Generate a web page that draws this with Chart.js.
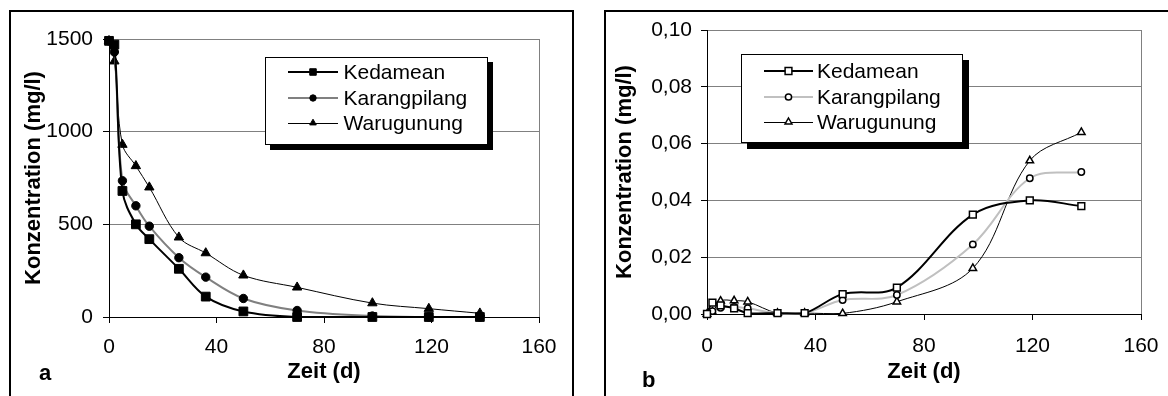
<!DOCTYPE html>
<html>
<head>
<meta charset="utf-8">
<script src="https://cdn.jsdelivr.net/npm/chart.js@4.4.1/dist/chart.umd.min.js"></script>
<style>
  html, body { margin: 0; padding: 0; background: #fff; }
  body { width: 1168px; height: 396px; overflow: hidden; position: relative;
         font-family: "Liberation Sans", Arial, sans-serif; }
  .frame { position: absolute; border: 2px solid #000; box-sizing: border-box; }
  canvas { position: absolute; top: 0; }
  .tag { position: absolute; font-weight: bold; font-size: 22px; line-height: 20px; color: #000; }
</style>
</head>
<body>
<div class="frame" style="left:9px;top:10px;width:565px;height:420px"></div>
<div class="frame" style="left:604px;top:10px;width:620px;height:420px"></div>
<canvas id="chartA" width="584" height="396" style="left:0"></canvas>
<canvas id="chartB" width="584" height="396" style="left:584px"></canvas>
<div class="tag" style="left:39px;top:363px">a</div>
<div class="tag" style="left:642px;top:370px">b</div>

<script>
// Sampling days (d)
const days = [0, 2, 5, 10, 15, 26, 36, 50, 70, 98, 119, 138];

// Panel a: concentration in mg/l
const kedameanA     = [1490, 1470, 680, 500, 420, 260, 110, 30, 0, 0, 0, 0];
const karangpilangA = [1490, 1430, 735, 600, 490, 320, 215, 100, 35, 5, 0, 0];
const warugunungA   = [1490, 1380, 930, 815, 700, 430, 345, 225, 160, 75, 45, 20];

// Panel b: concentration in mg/l
const kedameanB     = [0, 0.004, 0.003, 0.002, 0.0003, 0.0003, 0.0003, 0.007, 0.0093, 0.035, 0.040, 0.038];
const karangpilangB = [0, 0.001, 0.0022, 0.0025, 0.002, 0.0003, 0.0003, 0.0049, 0.0067, 0.0245, 0.0478, 0.050];
const warugunungB   = [0, 0.0007, 0.0046, 0.0047, 0.0043, 0.0003, 0.0003, 0.0002, 0.0043, 0.0161, 0.054, 0.064];

const seriesNames = ['Kedamean', 'Karangpilang', 'Warugunung'];

// Axis ticks
const xTicks = [0, 40, 80, 120, 160];
const yTicksA = [0, 500, 1000, 1500];
const yLabelsA = ['0', '500', '1000', '1500'];
const yTicksB = [0, 0.02, 0.04, 0.06, 0.08, 0.10];
const yLabelsB = ['0,00', '0,02', '0,04', '0,06', '0,08', '0,10'];

const FONT = '"Liberation Sans", Arial, sans-serif';
Chart.defaults.font.family = FONT;
Chart.defaults.color = '#000';

function points(values) {
  return days.map((d, i) => ({ x: d, y: values[i] }));
}

function drawMarker(ctx, style, x, y, r, fill, stroke, bw) {
  ctx.beginPath();
  if (style === 'rect') {
    const s = r * Math.SQRT1_2;
    ctx.rect(x - s, y - s, 2 * s, 2 * s);
  } else if (style === 'circle') {
    ctx.arc(x, y, r, 0, Math.PI * 2);
  } else {
    ctx.moveTo(x, y - r);
    ctx.lineTo(x + r * 0.866, y + r * 0.5);
    ctx.lineTo(x - r * 0.866, y + r * 0.5);
    ctx.closePath();
  }
  ctx.fillStyle = fill;
  ctx.fill();
  ctx.lineWidth = bw;
  ctx.strokeStyle = stroke;
  ctx.stroke();
}

// Boxed legend with a solid drop shadow
function boxLegend(cfg) {
  return {
    id: 'boxLegend',
    afterDraw(chart) {
      const ctx = chart.ctx;
      const b = cfg.box;
      ctx.save();
      ctx.fillStyle = '#000';
      ctx.fillRect(b.x + b.shadow, b.y + b.shadow, b.w, b.h);
      ctx.fillStyle = '#fff';
      ctx.fillRect(b.x, b.y, b.w, b.h);
      ctx.lineWidth = 1;
      ctx.strokeStyle = '#000';
      ctx.strokeRect(b.x + 0.5, b.y + 0.5, b.w - 1, b.h - 1);
      chart.data.datasets.forEach((ds, i) => {
        const ry = cfg.rows[i];
        const ly = ds.borderWidth % 2 ? ry + 0.5 : ry;
        ctx.strokeStyle = ds.borderColor;
        ctx.lineWidth = ds.borderWidth;
        ctx.beginPath();
        ctx.moveTo(cfg.lineX0, ly);
        ctx.lineTo(cfg.lineX1, ly);
        ctx.stroke();
        drawMarker(ctx, ds.pointStyle, (cfg.lineX0 + cfg.lineX1) / 2, ry,
                   cfg.markerRadius[i], ds.pointBackgroundColor, ds.pointBorderColor, ds.pointBorderWidth);
        ctx.fillStyle = '#000';
        ctx.font = '21px ' + FONT;
        ctx.textBaseline = 'middle';
        ctx.textAlign = 'left';
        ctx.fillText(ds.label, cfg.textX, ry + 1);
      });
      ctx.restore();
    }
  };
}

function makeChart(id, p) {
  const GRID = '#808080';
  return new Chart(document.getElementById(id), {
    type: 'line',
    data: { datasets: p.datasets },
    options: {
      responsive: false,
      animation: false,
      devicePixelRatio: 1,
      layout: { padding: p.padding },
      plugins: { legend: { display: false }, tooltip: { enabled: false } },
      elements: { line: { tension: 0.35 } },
      scales: {
        x: {
          type: 'linear', min: 0, max: 160,
          afterBuildTicks: s => { s.ticks = xTicks.map(v => ({ value: v })); },
          afterFit: s => { s.height = p.xAxisHeight; s.paddingLeft = 0; s.paddingRight = 0; },
          ticks: { font: { size: 21 }, color: '#000', padding: p.xTickPad, maxRotation: 0 },
          grid: {
            drawOnChartArea: true,
            color: c => (c.tick && c.tick.value === 160) ? GRID : 'rgba(0,0,0,0)',
            tickColor: '#000', tickLength: 6, lineWidth: 1
          },
          border: { display: true, color: '#000', width: 1 },
          title: { display: true, text: 'Zeit (d)', font: { size: 22, weight: 'bold' },
                   color: '#000', padding: { top: 0, bottom: 11 } }
        },
        y: {
          type: 'linear', min: p.yTicks[0], max: p.yTicks[p.yTicks.length - 1],
          afterBuildTicks: s => { s.ticks = p.yTicks.map(v => ({ value: v })); },
          afterFit: s => { s.width = p.yAxisWidth; s.paddingTop = 0; s.paddingBottom = 0; },
          ticks: { font: { size: 21 }, color: '#000', padding: p.yTickPad,
                   callback: (v, i) => p.yLabels[i] },
          grid: {
            drawOnChartArea: true,
            color: c => (c.tick && c.tick.value === 0) ? 'rgba(0,0,0,0)' : GRID,
            tickColor: '#000', tickLength: 6, lineWidth: 1
          },
          border: { display: true, color: '#000', width: 1 },
          title: { display: true, text: 'Konzentration (mg/l)', font: { size: 22, weight: 'bold' },
                   color: '#000', padding: { top: p.yTitlePad, bottom: 0 } }
        }
      }
    },
    plugins: [boxLegend(p.legend)]
  });
}

function ds(label, values, color, width, style, radius, fill, bw) {
  return {
    label, data: points(values), borderColor: color, borderWidth: width,
    pointStyle: style, pointRadius: radius, pointBackgroundColor: fill,
    pointBorderColor: '#000', pointBorderWidth: bw, clip: false, fill: false
  };
}

makeChart('chartA', {
  padding: { left: 0, top: 39, right: 45, bottom: 0 },
  xAxisHeight: 79, yAxisWidth: 109,
  xTickPad: 12, yTickPad: 10, yTitlePad: 21,
  yTicks: yTicksA, yLabels: yLabelsA,
  datasets: [
    ds(seriesNames[0], kedameanA, '#000', 2, 'rect', 6.2, '#000', 1),
    ds(seriesNames[1], karangpilangA, '#808080', 2, 'circle', 4.2, '#000', 1),
    ds(seriesNames[2], warugunungA, '#000', 1, 'triangle', 5.4, '#000', 1)
  ],
  legend: {
    box: { x: 265, y: 57, w: 223, h: 88, shadow: 5 },
    rows: [72, 98, 123], lineX0: 288, lineX1: 338, textX: 343.5,
    markerRadius: [4.6, 3.2, 3.8]
  }
});

makeChart('chartB', {
  padding: { left: 0, top: 30, right: 27, bottom: 0 },
  xAxisHeight: 82, yAxisWidth: 123,
  xTickPad: 14, yTickPad: 9, yTitlePad: 28,
  yTicks: yTicksB, yLabels: yLabelsB,
  datasets: [
    ds(seriesNames[0], kedameanB, '#000', 2, 'rect', 4.8, '#fff', 1.5),
    ds(seriesNames[1], karangpilangB, '#c0c0c0', 2, 'circle', 3.2, '#fff', 1.5),
    ds(seriesNames[2], warugunungB, '#000', 1, 'triangle', 4.3, '#fff', 1.5)
  ],
  legend: {
    box: { x: 157, y: 54, w: 222, h: 89, shadow: 6 },
    rows: [71, 97, 122], lineX0: 180, lineX1: 229, textX: 233,
    markerRadius: [4.8, 3.1, 4]
  }
});
</script>
</body>
</html>
